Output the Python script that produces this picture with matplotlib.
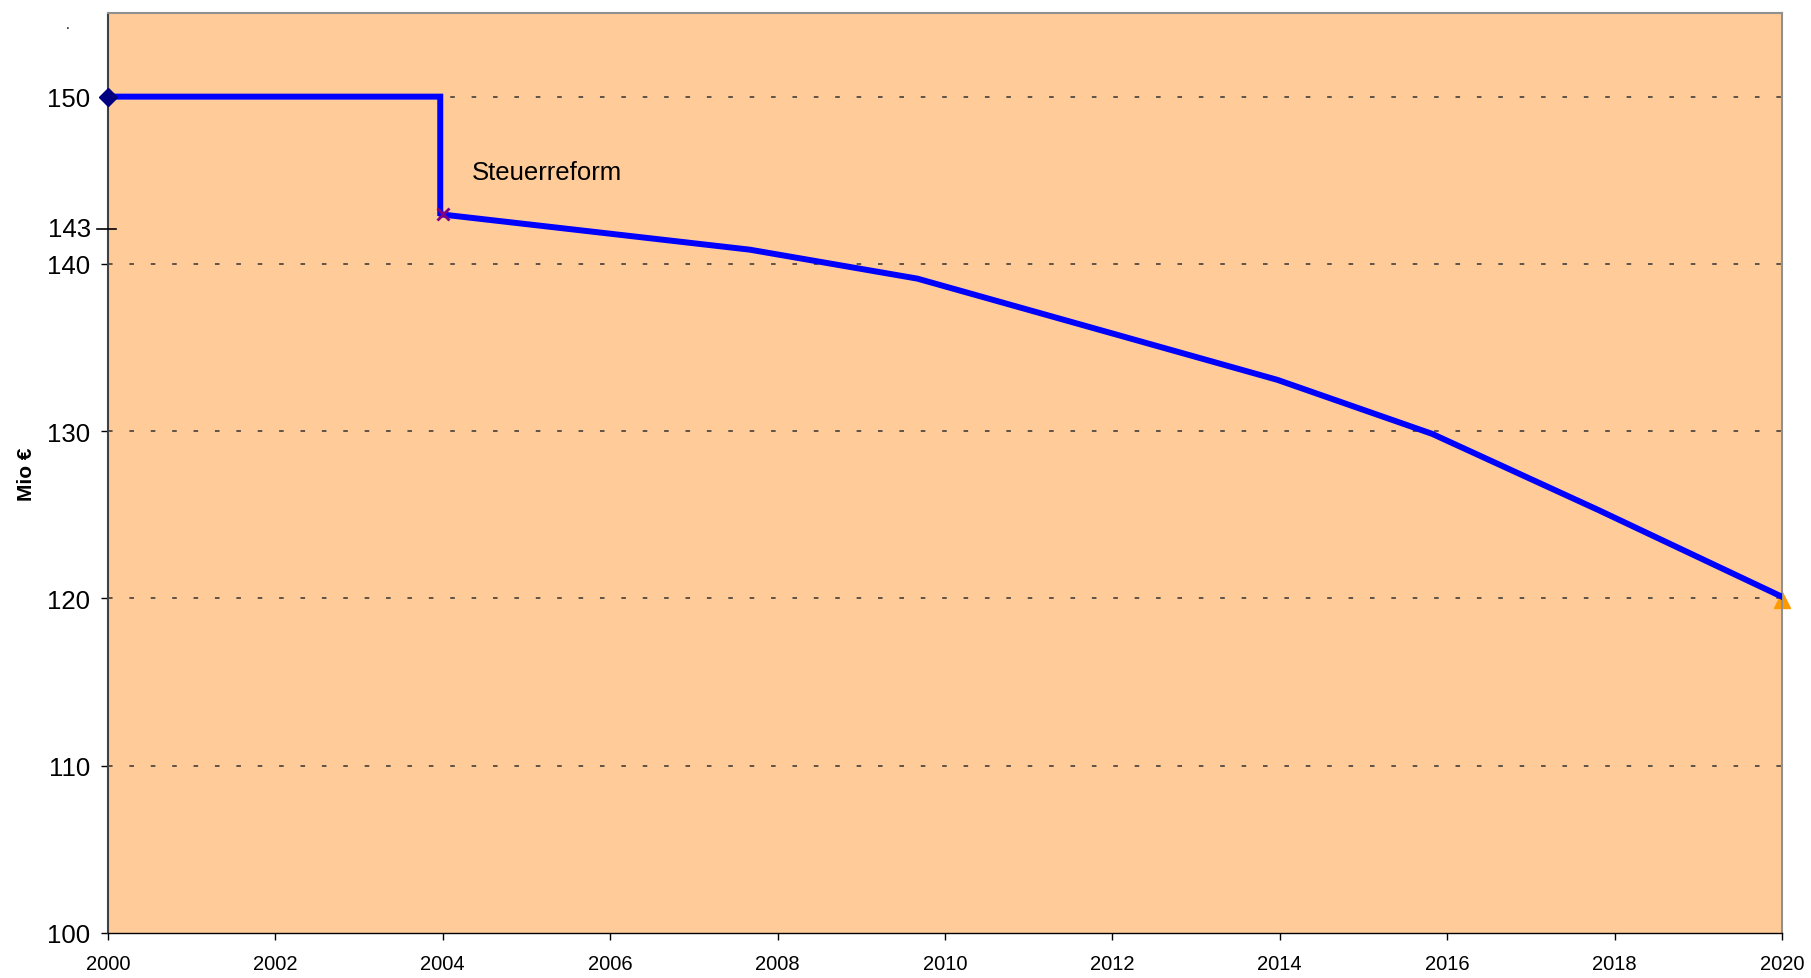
import matplotlib
matplotlib.use("Agg")
import matplotlib.pyplot as plt
import matplotlib.transforms as mtransforms

plt.rcParams['font.family'] = ['Liberation Sans', 'DejaVu Sans']

# Data
years = [2000, 2003.97, 2003.97, 2004.0, 2007.67, 2009.67, 2013.97, 2015.82, 2017.8, 2020]
values = [150, 150, 143.0, 142.95, 140.85, 139.12, 133.07, 129.84, 125.3, 120.1]
start_point = (2000, 150)
reform_point = (2004, 143.0)
end_point = (2020, 119.9)
y_ticks = [100, 110, 120, 130, 140, 150]
x_ticks = list(range(2000, 2021, 2))
extra_label_value = 142.1
extra_label_text = "143"

fig = plt.figure(figsize=(18.11, 9.79), dpi=100)
ax = fig.add_axes([0.0596, 0.046, 0.9244, 0.9397])
ax.set_facecolor('#FFCC99')

# Grid lines
for v in y_ticks[1:]:
    ax.axhline(v, color='#333333', lw=1.1, linestyle=(0, (3, 11)), zorder=1)

# Main series
ax.plot(years, values, color='#0000FF', lw=4.3, solid_joinstyle='miter', zorder=3)
ax.plot(*start_point, marker='D', color='#000080', ms=9, zorder=4, clip_on=False)
ax.plot(*reform_point, marker='x', color='#800080', ms=9, mew=2, zorder=4)
ax.plot(*end_point, marker='^', color='#FF9900', ms=11, zorder=2, clip_on=False)

ax.text(2004.35, 145.5, "Steuerreform", fontsize=18.5, va='center', ha='left')

ax.set_xlim(2000, 2020)
ax.set_ylim(100, 155)
ax.set_xticks(x_ticks)
ax.set_yticks(y_ticks)
ax.tick_params(axis='y', labelsize=18.5, length=5, width=1, pad=8, direction='out')
ax.tick_params(axis='x', labelsize=14.5, length=5, width=1, pad=10, direction='out')
ax.set_ylabel("Mio €", fontsize=15, fontweight='bold')
ax.yaxis.set_label_coords(-0.043, 0.5)

# extra "143" marker on the y axis
trans = mtransforms.blended_transform_factory(ax.transAxes, ax.transData)
ax.plot([-0.0066, 0.0048], [extra_label_value] * 2, color='black', lw=1.2,
        transform=trans, clip_on=False, zorder=5)
ax.text(-0.0102, extra_label_value, extra_label_text, fontsize=18.5, ha='right',
        va='center', transform=trans)
ax.text(-0.0239, 154.1, ".", fontsize=10, ha='center', va='baseline', transform=trans)

for side in ['top', 'right']:
    ax.spines[side].set_color('#909090')
    ax.spines[side].set_linewidth(1.5)
ax.spines['left'].set_color('#404040')
ax.spines['left'].set_linewidth(1.5)
ax.spines['bottom'].set_color('black')
ax.spines['bottom'].set_linewidth(1.0)

fig.savefig("out.png", dpi=100)
